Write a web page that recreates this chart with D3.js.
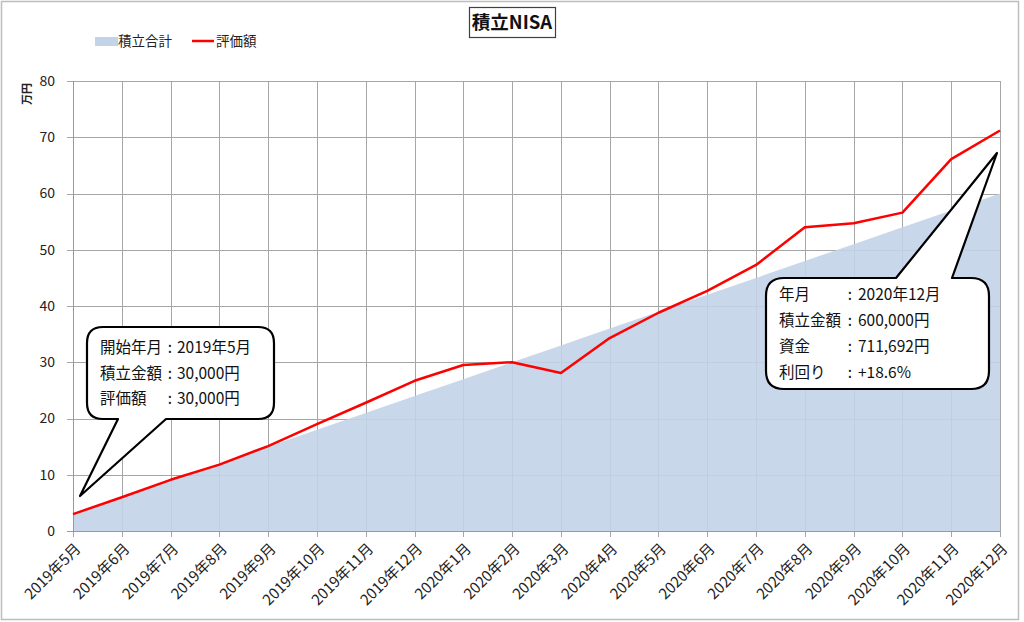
<!DOCTYPE html>
<html><head><meta charset="utf-8">
<script src="https://cdn.jsdelivr.net/npm/d3@7"></script>
<style>body{margin:0;background:#fff}svg{display:block}text{font-family:"Noto Sans CJK JP","Noto Sans",sans-serif}</style>
</head><body><svg id="c" width="1024" height="622"></svg>
<script>
const months = ["2019年5月","2019年6月","2019年7月","2019年8月","2019年9月","2019年10月","2019年11月","2019年12月","2020年1月","2020年2月","2020年3月","2020年4月","2020年5月","2020年6月","2020年7月","2020年8月","2020年9月","2020年10月","2020年11月","2020年12月"];
const contributed = [3,6,9,12,15,18,21,24,27,30,33,36,39,42,45,48,51,54,57,60];
const valuation = [3.0,6.0,9.1,11.8,15.1,19.0,22.8,26.7,29.5,30.0,28.1,34.3,38.8,42.7,47.3,54.0,54.7,56.6,66.1,71.2];
const yTicks = [0,10,20,30,40,50,60,70,80];
const seriesNames = ["積立合計","評価額"];
const title = "積立NISA";
const unitLabel = "万円";
const noteStart = [["開始年月","2019年5月"],["積立金額","30,000円"],["評価額","30,000円"]];
const noteEnd = [["年月","2020年12月"],["積立金額","600,000円"],["資金","711,692円"],["利回り","+18.6%"]];

const svg = d3.select("#c");
const L=73,R=1000,T=81,B=531;
const x = d3.scalePoint().domain(months).range([L,R]);
const y = d3.scaleLinear().domain([0,80]).range([B,T]);

svg.append("rect").attr("x",1.5).attr("y",1.5).attr("width",1017).attr("height",618).attr("fill","#fff").attr("stroke","#bdbdbd").attr("stroke-width",1.5);

// gridlines
const g = svg.append("g");
g.selectAll(".hg").data(yTicks).join("line").attr("x1",L-6).attr("x2",R).attr("y1",d=>Math.round(y(d))+0.5).attr("y2",d=>Math.round(y(d))+0.5).attr("stroke","#a6a6a6");
g.selectAll(".vg").data(months).join("line").attr("x1",d=>Math.round(x(d))+0.5).attr("x2",d=>Math.round(x(d))+0.5).attr("y1",T).attr("y2",B+6).attr("stroke","#a6a6a6");

// area
const area = d3.area().x((d,i)=>x(months[i])).y0(y(0)).y1(d=>y(d));
svg.append("path").datum(contributed).attr("d",area).attr("fill","#c3d3e8").attr("fill-opacity",0.9);

// axes lines
svg.append("line").attr("x1",L-6).attr("x2",R).attr("y1",B+0.5).attr("y2",B+0.5).attr("stroke","#999");
svg.append("line").attr("x1",L+0.5).attr("x2",L+0.5).attr("y1",T).attr("y2",B).attr("stroke","#999");

// line
const line = d3.line().x((d,i)=>x(months[i])).y(d=>y(d));
svg.append("path").datum(valuation).attr("d",line).attr("fill","none").attr("stroke","#ff0000").attr("stroke-width",2.5).attr("stroke-linejoin","round");

// y tick labels
svg.selectAll(".yl").data(yTicks).join("text").attr("x",55).attr("y",d=>y(d)).attr("dy","0.35em").attr("text-anchor","end").attr("font-size",14).attr("fill","#222").text(d=>d);
svg.append("text").attr("transform","translate(31,94) rotate(-90)").attr("text-anchor","middle").attr("font-size",11).attr("font-weight","bold").attr("fill","#222").text(unitLabel);

// x labels
svg.selectAll(".xl").data(months).join("text").attr("transform",d=>`translate(${x(d)+5},${B+15}) rotate(-45)`).attr("text-anchor","end").attr("dy","0.35em").attr("font-size",15).attr("fill","#222").text(d=>d);

// title
svg.append("rect").attr("x",469.5).attr("y",7.5).attr("width",86).attr("height",30).attr("fill","#fff").attr("stroke","#404040").attr("stroke-width",1.2);
svg.append("text").attr("x",512).attr("y",23).attr("dy","0.35em").attr("text-anchor","middle").attr("font-size",18.5).attr("font-weight","bold").attr("fill","#111").text(title);

// legend
svg.append("rect").attr("x",95).attr("y",37).attr("width",23).attr("height",9).attr("fill","#c3d3e8");
svg.append("text").attr("x",118).attr("y",41).attr("dy","0.35em").attr("font-size",13.5).attr("fill","#222").text(seriesNames[0]);
svg.append("line").attr("x1",192).attr("x2",214).attr("y1",41).attr("y2",41).attr("stroke","#ff0000").attr("stroke-width",2.5);
svg.append("text").attr("x",216).attr("y",41).attr("dy","0.35em").attr("font-size",13.5).attr("fill","#222").text(seriesNames[1]);

// callouts
function callout(x0,y0,x1,y1,r,pbA,pbB,tip,side){
  let p = `M${x0+r},${y0}`;
  if(side==='top'){ p += `L${pbA},${y0}L${tip[0]},${tip[1]}L${pbB},${y0}`; }
  p += `L${x1-r},${y0}Q${x1},${y0} ${x1},${y0+r}L${x1},${y1-r}Q${x1},${y1} ${x1-r},${y1}`;
  if(side==='bottom'){ p += `L${pbB},${y1}L${tip[0]},${tip[1]}L${pbA},${y1}`; }
  p += `L${x0+r},${y1}Q${x0},${y1} ${x0},${y1-r}L${x0},${y0+r}Q${x0},${y0} ${x0+r},${y0}Z`;
  svg.append("path").attr("d",p).attr("fill","#fff").attr("stroke","#000").attr("stroke-width",2.2).attr("stroke-linejoin","round");
}
callout(87,327,274,419,16,118,166,[80,496],'bottom');
callout(766,278,989,389,18,896,952,[997,153],'top');

function noteText(rows,xl,xc,xv,y0,dy){
  rows.forEach((r,i)=>{
    const yy = y0+i*dy;
    svg.append("text").attr("x",xl).attr("y",yy).attr("dy","0.35em").attr("font-size",15.5).attr("fill","#111").text(r[0]);
    svg.append("text").attr("x",xc).attr("y",yy).attr("dy","0.35em").attr("text-anchor","middle").attr("font-size",15.5).attr("fill","#111").text(":");
    svg.append("text").attr("x",xv).attr("y",yy).attr("dy","0.35em").attr("font-size",15.5).attr("fill","#111").text(r[1]);
  });
}
noteText(noteStart,100,170,177,348,25.5);
noteText(noteEnd,779,850,858,295,26);
</script></body></html>
